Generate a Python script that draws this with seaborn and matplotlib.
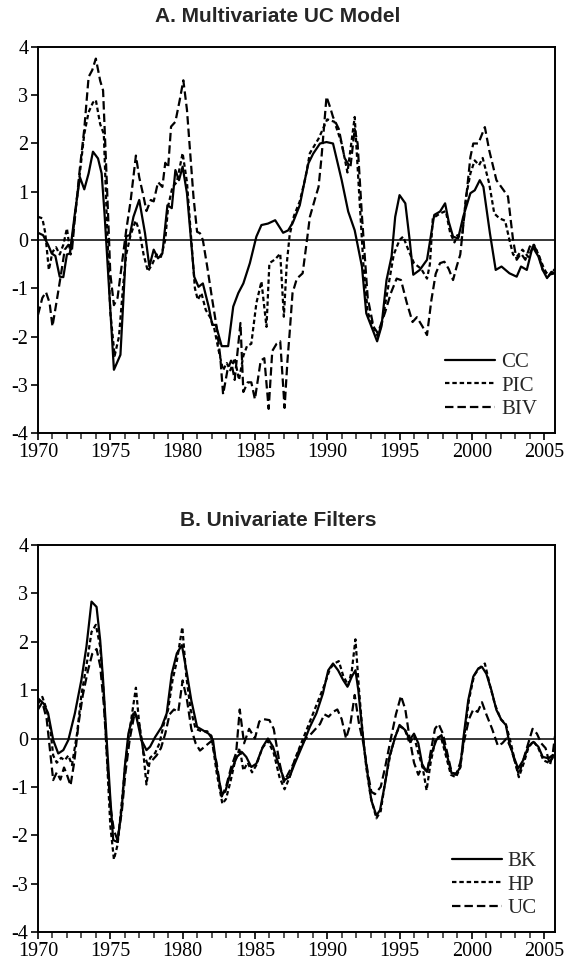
import matplotlib
matplotlib.use("Agg")
import matplotlib.pyplot as plt
from matplotlib.ticker import MultipleLocator
import seaborn as sns
import pandas as pd

# ---------------- Panel A: Multivariate UC Model ----------------
cc_year = [1970.0, 1970.35, 1970.7, 1970.95, 1971.2, 1971.5, 1971.75, 1972.0, 1972.2, 1972.55,
           1972.9, 1973.2, 1973.5, 1973.8, 1974.15, 1974.4, 1974.6, 1974.85, 1975.25, 1975.7,
           1976.0, 1976.1, 1976.35, 1976.6, 1977.0, 1977.4, 1977.7, 1978.0, 1978.3, 1978.6,
           1978.95, 1979.25, 1979.5, 1979.75, 1980.0, 1980.3, 1980.5, 1980.8, 1981.1, 1981.4,
           1981.8, 1982.05, 1982.3, 1982.7, 1983.15, 1983.5, 1983.85, 1984.2, 1984.65, 1985.1,
           1985.45, 1985.9, 1986.4, 1986.95, 1987.3, 1987.65, 1988.1, 1988.45, 1988.7, 1989.03,
           1989.5, 1989.95, 1990.4, 1991.0, 1991.45, 1991.9, 1992.4, 1992.7, 1993.05, 1993.45,
           1993.75, 1994.1, 1994.45, 1994.7, 1995.0, 1995.4, 1995.7, 1995.95, 1996.4, 1996.9,
           1997.4, 1997.8, 1998.15, 1998.4, 1998.7, 1999.05, 1999.4, 1999.9, 2000.2, 2000.55,
           2000.8, 2001.25, 2001.65, 2002.05, 2002.6, 2003.1, 2003.4, 2003.8, 2004.2, 2004.6,
           2004.9, 2005.2, 2005.5, 2005.75]
cc_val = [0.15, 0.1, -0.1, -0.28, -0.33, -0.76, -0.77, -0.3, -0.28, 0.55,
          1.3, 1.05, 1.38, 1.83, 1.69, 1.38, 0.55, -0.69, -2.69, -2.38,
          -0.69, 0.08, 0.1, 0.48, 0.83, 0.14, -0.55, -0.2, -0.38, -0.28,
          0.72, 0.66, 1.45, 1.24, 1.52, 0.97, 0.28, -0.76, -0.97, -0.9,
          -1.38, -1.76, -1.76, -2.2, -2.2, -1.38, -1.1, -0.9, -0.48, 0.07,
          0.31, 0.34, 0.41, 0.15, 0.2, 0.38, 0.72, 1.24, 1.59, 1.79,
          2.0, 2.03, 2.0, 1.24, 0.59, 0.2, -0.55, -1.52, -1.79, -2.1,
          -1.79, -0.83, -0.34, 0.48, 0.93, 0.76, 0.0, -0.72, -0.62, -0.41,
          0.52, 0.59, 0.76, 0.38, 0.07, 0.03, 0.48, 0.97, 1.03, 1.24,
          1.1, 0.14, -0.62, -0.55, -0.69, -0.76, -0.55, -0.62, -0.14, -0.34,
          -0.62, -0.79, -0.66, -0.69]

pic_year = [1970.0, 1970.3, 1970.5, 1970.75, 1971.0, 1971.25, 1971.5, 1971.75, 1972.0, 1972.25,
            1972.55, 1972.9, 1973.2, 1973.5, 1973.8, 1974.0, 1974.3, 1974.55, 1974.75, 1975.0,
            1975.3, 1975.6, 1975.9, 1976.1, 1976.4, 1976.75, 1977.0, 1977.3, 1977.6, 1977.9,
            1978.2, 1978.5, 1978.8, 1979.0, 1979.3, 1979.6, 1979.8, 1980.0, 1980.3, 1980.6,
            1980.85, 1981.05, 1981.3, 1981.6, 1981.9, 1982.2, 1982.5, 1982.8, 1983.05, 1983.3,
            1983.6, 1983.9, 1984.2, 1984.45, 1984.75, 1985.1, 1985.45, 1985.8, 1986.0, 1986.4,
            1986.75, 1987.0, 1987.2, 1987.4, 1987.7, 1988.1, 1988.5, 1988.8, 1989.2, 1989.4,
            1989.7, 1990.0, 1990.5, 1991.0, 1991.4, 1991.9, 1992.2, 1992.5, 1992.8, 1993.2,
            1993.5, 1993.8, 1994.2, 1994.6, 1995.0, 1995.25, 1995.6, 1996.0, 1996.5, 1996.9,
            1997.1, 1997.3, 1997.8, 1998.2, 1998.5, 1998.8, 1999.0, 1999.3, 1999.6, 1999.9,
            2000.2, 2000.5, 2000.75, 2001.2, 2001.55, 2001.9, 2002.3, 2002.6, 2002.85, 2003.1,
            2003.5, 2003.9, 2004.3, 2004.6, 2005.0, 2005.3, 2005.75]
pic_val = [0.48, 0.45, 0.15, -0.62, -0.25, -0.15, -0.3, -0.1, 0.24, -0.3,
           0.5, 1.4, 2.2, 2.65, 2.85, 2.9, 2.4, 2.2, 0.5, -1.5,
           -2.4, -2.0, -0.9, -0.3, 0.1, 0.4, 0.2, -0.3, -0.65, -0.5,
           -0.3, -0.35, 0.0, 0.7, 1.1, 1.2, 1.5, 1.8, 1.2, 0.0,
           -1.0, -1.24, -1.1, -1.45, -1.6, -1.85, -2.3, -2.7, -2.55, -2.7,
           -2.45, -2.9, -2.4, -2.2, -2.15, -1.31, -0.86, -1.8, -0.48, -0.4,
           -0.28, -1.59, -0.5, 0.1, 0.5, 0.8, 1.3, 1.8, 2.0, 2.1,
           2.3, 2.5, 2.45, 2.0, 1.4, 2.55, 1.0, -0.5, -1.5, -1.8,
           -2.0, -1.7, -1.0, -0.3, 0.0, 0.07, -0.2, -0.48, -0.6, -0.8,
           -0.5, 0.45, 0.55, 0.6, 0.15, -0.05, 0.1, 0.0, 0.9, 1.38,
           1.65, 1.55, 1.7, 1.17, 0.55, 0.45, 0.4, 0.0, -0.3, -0.35,
           -0.2, -0.35, -0.1, -0.3, -0.6, -0.75, -0.6]

biv_year = [1970.0, 1970.3, 1970.55, 1970.8, 1971.0, 1971.3, 1971.6, 1971.85, 1972.1, 1972.35,
            1972.6, 1972.9, 1973.2, 1973.5, 1973.75, 1974.0, 1974.3, 1974.5, 1974.65, 1974.85,
            1975.0, 1975.25, 1975.5, 1975.8, 1976.1, 1976.4, 1976.77, 1977.0, 1977.3, 1977.5,
            1977.8, 1978.0, 1978.3, 1978.6, 1978.8, 1979.0, 1979.2, 1979.5, 1979.8, 1980.05,
            1980.3, 1980.5, 1980.75, 1981.0, 1981.2, 1981.4, 1981.7, 1982.05, 1982.35, 1982.6,
            1982.8, 1983.1, 1983.35, 1983.6, 1984.0, 1984.2, 1984.5, 1984.75, 1985.0, 1985.4,
            1985.65, 1985.95, 1986.2, 1986.5, 1986.75, 1987.05, 1987.25, 1987.4, 1987.6, 1987.9,
            1988.3, 1988.6, 1988.8, 1989.2, 1989.4, 1989.6, 1989.95, 1990.2, 1990.4, 1990.8,
            1991.2, 1991.6, 1991.9, 1992.1, 1992.4, 1992.8, 1993.2, 1993.5, 1994.0, 1994.4,
            1994.8, 1995.1, 1995.5, 1995.9, 1996.2, 1996.6, 1996.9, 1997.2, 1997.5, 1997.8,
            1998.1, 1998.4, 1998.7, 1998.95, 1999.2, 1999.4, 1999.9, 2000.1, 2000.45, 2000.9,
            2001.2, 2001.7, 2002.2, 2002.5, 2002.85, 2003.1, 2003.4, 2003.7, 2004.0, 2004.2,
            2004.6, 2004.9, 2005.3, 2005.75]
biv_val = [-1.55, -1.2, -1.08, -1.3, -1.79, -1.25, -0.69, -0.2, -0.1, -0.2,
           0.6, 1.5, 2.3, 3.38, 3.52, 3.76, 3.3, 3.1, 2.0, 0.5,
           -0.7, -1.35, -1.2, -0.5, 0.2, 0.8, 1.75, 1.3, 0.9, 0.6,
           0.83, 0.8, 1.2, 1.1, 1.6, 1.5, 2.35, 2.45, 2.9, 3.31,
           2.7, 1.9, 0.9, 0.17, 0.14, 0.0, -0.55, -1.24, -1.8, -2.41,
           -3.2, -2.7, -2.5, -2.9, -1.72, -3.15, -2.95, -2.95, -3.3, -2.5,
           -2.45, -3.5, -2.3, -2.15, -2.1, -3.48, -2.5, -1.93, -1.1, -0.8,
           -0.69, 0.0, 0.48, 0.9, 1.1, 1.7, 2.97, 2.75, 2.55, 2.3,
           1.7, 1.5, 2.3, 2.0, 0.5, -1.2, -1.8, -1.93, -1.5, -1.1,
           -0.8, -0.83, -1.3, -1.7, -1.6, -1.8, -1.97, -1.25, -0.7, -0.48,
           -0.45, -0.6, -0.83, -0.55, -0.3, 0.28, 1.72, 2.0, 2.0, 2.34,
           1.86, 1.24, 1.03, 0.9, 0.0, -0.41, -0.28, -0.41, -0.14, -0.07,
           -0.28, -0.62, -0.72, -0.69]

# ---------------- Panel B: Univariate Filters ----------------
bk_year = [1970.0, 1970.4, 1970.7, 1971.05, 1971.4, 1971.75, 1972.1, 1972.55, 1973.0, 1973.35,
           1973.7, 1974.05, 1974.3, 1974.5, 1974.75, 1974.98, 1975.2, 1975.5, 1975.8, 1976.0,
           1976.25, 1976.6, 1976.8, 1977.15, 1977.5, 1977.75, 1978.1, 1978.55, 1978.9, 1979.25,
           1979.6, 1979.95, 1980.3, 1980.6, 1981.0, 1981.4, 1981.8, 1982.1, 1982.35, 1982.7,
           1982.95, 1983.3, 1983.75, 1984.1, 1984.4, 1984.75, 1985.1, 1985.55, 1985.9, 1986.25,
           1986.7, 1987.05, 1987.4, 1987.75, 1988.05, 1988.35, 1988.8, 1989.25, 1989.7, 1990.07,
           1990.4, 1990.75, 1991.1, 1991.4, 1991.7, 1991.95, 1992.15, 1992.4, 1992.6, 1992.85,
           1993.05, 1993.4, 1993.65, 1994.0, 1994.3, 1994.7, 1995.0, 1995.4, 1995.7, 1996.0,
           1996.3, 1996.6, 1996.9, 1997.2, 1997.55, 1997.9, 1998.25, 1998.6, 1998.95, 1999.2,
           1999.4, 1999.75, 2000.1, 2000.45, 2000.7, 2001.0, 2001.35, 2001.7, 2002.05, 2002.35,
           2002.6, 2002.9, 2003.2, 2003.55, 2003.9, 2004.25, 2004.6, 2004.9, 2005.3, 2005.6,
           2005.75]
bk_val = [0.83, 0.72, 0.52, -0.03, -0.31, -0.24, -0.03, 0.52, 1.21, 1.9,
          2.83, 2.72, 2.03, 1.21, -0.03, -1.14, -2.1, -2.14, -1.41, -0.59,
          0.1, 0.52, 0.45, -0.03, -0.24, -0.17, 0.03, 0.24, 0.52, 1.34,
          1.76, 1.93, 1.34, 0.79, 0.24, 0.17, 0.1, -0.03, -0.59, -1.14,
          -1.1, -0.72, -0.38, -0.28, -0.38, -0.59, -0.52, -0.17, 0.0, -0.17,
          -0.59, -0.86, -0.79, -0.52, -0.31, -0.1, 0.24, 0.52, 0.93, 1.41,
          1.55, 1.41, 1.21, 1.07, 1.28, 1.41, 1.0, 0.24, -0.31, -0.86,
          -1.28, -1.59, -1.48, -0.93, -0.38, 0.03, 0.28, 0.17, -0.03, 0.1,
          -0.1, -0.59, -0.69, -0.31, -0.03, 0.07, -0.31, -0.72, -0.72, -0.59,
          -0.03, 0.79, 1.28, 1.45, 1.48, 1.34, 1.0, 0.59, 0.38, 0.28,
          -0.1, -0.38, -0.62, -0.45, -0.17, -0.07, -0.17, -0.38, -0.41, -0.34,
          -0.38]

hp_year = [1970.0, 1970.3, 1970.6, 1970.85, 1971.05, 1971.3, 1971.6, 1971.85, 1972.1, 1972.35,
           1972.7, 1973.0, 1973.4, 1973.7, 1974.0, 1974.3, 1974.55, 1974.8, 1975.0, 1975.25,
           1975.5, 1975.8, 1976.05, 1976.35, 1976.77, 1977.0, 1977.25, 1977.5, 1977.75, 1978.1,
           1978.4, 1978.7, 1979.0, 1979.3, 1979.6, 1979.98, 1980.25, 1980.55, 1980.9, 1981.3,
           1981.7, 1982.0, 1982.35, 1982.75, 1983.0, 1983.3, 1983.6, 1983.95, 1984.2, 1984.5,
           1984.8, 1985.1, 1985.5, 1985.9, 1986.3, 1986.7, 1987.05, 1987.4, 1987.8, 1988.2,
           1988.6, 1989.0, 1989.4, 1989.8, 1990.2, 1990.5, 1990.8, 1991.1, 1991.45, 1991.7,
           1991.95, 1992.2, 1992.45, 1992.7, 1993.0, 1993.4, 1993.7, 1994.0, 1994.35, 1994.7,
           1995.0, 1995.35, 1995.7, 1996.0, 1996.3, 1996.6, 1996.87, 1997.15, 1997.5, 1997.85,
           1998.2, 1998.55, 1998.9, 1999.2, 1999.45, 1999.8, 2000.15, 2000.5, 2000.9, 2001.25,
           2001.6, 2002.0, 2002.35, 2002.7, 2003.0, 2003.25, 2003.6, 2003.9, 2004.25, 2004.6,
           2004.95, 2005.3, 2005.6, 2005.75]
hp_val = [0.72, 0.86, 0.6, 0.2, -0.35, -0.5, -0.4, -0.45, -0.35, -0.55,
          0.1, 0.9, 1.6, 2.2, 2.35, 1.9, 0.9, -0.6, -1.8, -2.5,
          -2.2, -1.3, -0.5, 0.2, 1.05, 0.3, -0.2, -0.95, -0.4, -0.3,
          -0.1, 0.3, 0.6, 1.2, 1.6, 2.3, 1.3, 0.6, 0.2, 0.15,
          0.15, 0.05, -0.7, -1.35, -1.25, -0.9, -0.5, -0.2, -0.66, -0.5,
          -0.7, -0.55, -0.2, -0.05, -0.3, -0.8, -1.05, -0.8, -0.4, -0.1,
          0.2, 0.5, 0.8, 1.1, 1.45, 1.55, 1.6, 1.3, 1.1, 1.4,
          2.05, 1.0, 0.1, -0.6, -1.2, -1.65, -1.5, -0.9, -0.35, 0.05,
          0.25, 0.2, -0.1, 0.05, -0.3, -0.6, -1.07, -0.5, 0.0, 0.05,
          -0.35, -0.75, -0.8, -0.6, 0.0, 0.8, 1.3, 1.45, 1.55, 1.1,
          0.7, 0.4, 0.3, -0.1, -0.5, -0.8, -0.5, -0.2, -0.05, -0.2,
          -0.45, -0.5, -0.4, -0.45]

uc_year = [1970.0, 1970.3, 1970.6, 1970.85, 1971.05, 1971.3, 1971.55, 1971.8, 1972.0, 1972.25,
           1972.5, 1972.8, 1973.1, 1973.45, 1973.75, 1974.05, 1974.3, 1974.55, 1974.8, 1975.0,
           1975.25, 1975.5, 1975.8, 1976.05, 1976.35, 1976.7, 1977.0, 1977.3, 1977.6, 1977.9,
           1978.2, 1978.5, 1978.8, 1979.1, 1979.4, 1979.7, 1980.0, 1980.3, 1980.6, 1980.9,
           1981.2, 1981.6, 1982.0, 1982.35, 1982.7, 1983.0, 1983.35, 1983.7, 1983.95, 1984.25,
           1984.6, 1985.0, 1985.3, 1985.6, 1986.0, 1986.3, 1986.7, 1987.0, 1987.35, 1987.7,
           1988.1, 1988.5, 1988.9, 1989.2, 1989.5, 1989.8, 1990.1, 1990.4, 1990.7, 1991.0,
           1991.3, 1991.6, 1991.9, 1992.2, 1992.5, 1992.8, 1993.05, 1993.3, 1993.7, 1994.0,
           1994.4, 1994.75, 1995.1, 1995.4, 1995.7, 1996.0, 1996.3, 1996.6, 1996.9, 1997.2,
           1997.45, 1997.7, 1998.0, 1998.3, 1998.6, 1998.9, 1999.2, 1999.5, 1999.8, 2000.1,
           2000.4, 2000.7, 2001.0, 2001.4, 2001.8, 2002.1, 2002.4, 2002.7, 2003.0, 2003.25,
           2003.6, 2003.9, 2004.2, 2004.5, 2004.8, 2005.1, 2005.4, 2005.6, 2005.75]
uc_val = [0.6, 0.75, 0.4, -0.3, -0.86, -0.7, -0.85, -0.6, -0.75, -0.97,
          -0.5, 0.3, 0.9, 1.4, 1.75, 1.85, 1.5, 0.7, -0.5, -1.4,
          -1.9, -2.1, -1.5, -0.7, 0.0, 0.55, 0.3, -0.3, -0.55, -0.45,
          -0.35, -0.2, 0.1, 0.5, 0.6, 0.55, 1.2, 0.8, 0.2, -0.1,
          -0.25, -0.15, -0.05, -0.5, -1.2, -1.0, -0.6, -0.3, 0.6, -0.1,
          0.2, 0.0, 0.35, 0.4, 0.38, 0.2, -0.5, -0.9, -0.7, -0.5,
          -0.2, 0.0, 0.1, 0.2, 0.3, 0.5, 0.45, 0.55, 0.6, 0.4,
          0.0, 0.3, 0.9, 0.3, -0.1, -0.7, -1.1, -1.15, -1.0, -0.6,
          0.0, 0.5, 0.88, 0.6, 0.0, -0.5, -0.75, -0.55, -0.7, -0.2,
          0.2, 0.3, 0.1, -0.3, -0.7, -0.75, -0.5, 0.0, 0.4, 0.6,
          0.55, 0.75, 0.5, 0.2, -0.15, -0.1, 0.0, -0.2, -0.5, -0.75,
          -0.4, -0.1, 0.2, 0.1, -0.1, -0.2, -0.55, -0.3, 0.05]

panel_titles = ["A. Multivariate UC Model", "B. Univariate Filters"]
panel_a_names = ["CC", "PIC", "BIV"]
panel_b_names = ["BK", "HP", "UC"]
x_ticks = [1970, 1975, 1980, 1985, 1990, 1995, 2000, 2005]
y_ticks = [-4, -3, -2, -1, 0, 1, 2, 3, 4]


def long_frame(names, years, values):
    rows = []
    for n, ys, vs in zip(names, years, values):
        rows.append(pd.DataFrame({"year": ys, "value": vs, "series": n}))
    return pd.concat(rows, ignore_index=True)


df_a = long_frame(panel_a_names, [cc_year, pic_year, biv_year], [cc_val, pic_val, biv_val])
df_b = long_frame(panel_b_names, [bk_year, hp_year, uc_year], [bk_val, hp_val, uc_val])

sns.set_theme(style="ticks")
plt.rcParams["font.family"] = ["Liberation Serif", "DejaVu Serif"]
plt.rcParams["axes.unicode_minus"] = False

W, H = 564, 965
fig = plt.figure(figsize=(W / 100, H / 100), dpi=100)

left_px, right_px = 38, 555
panels = [
    (df_a, panel_a_names, 47, 433, 17),
    (df_b, panel_b_names, 545, 932, 520),
]
solid = ""
fine = (2.0, 1.3)
dash = (3.8, 1.8)

for (df, names, top_px, bot_px, title_px), title in zip(panels, panel_titles):
    ax = fig.add_axes([left_px / W, 1 - bot_px / H, (right_px - left_px) / W, (bot_px - top_px) / H])
    ax.axhline(0, color="black", lw=1.1, zorder=1)
    sns.lineplot(data=df, x="year", y="value", style="series", style_order=names,
                 dashes={names[0]: solid, names[1]: fine, names[2]: dash},
                 color="black", linewidth=1.6, estimator=None, sort=False, ax=ax, legend=True)
    ax.set_xlim(1970, 2005.75)
    ax.set_ylim(-4, 4)
    ax.set_xticks(x_ticks)
    ax.set_yticks(y_ticks)
    ax.set_yticklabels([str(v) for v in y_ticks])
    ax.xaxis.set_minor_locator(MultipleLocator(1))
    ax.set_xlabel("")
    ax.set_ylabel("")
    for s in ax.spines.values():
        s.set_visible(True)
        s.set_linewidth(1.4)
        s.set_color("black")
    ax.tick_params(axis="both", which="major", direction="out", length=5, width=1.2,
                   labelsize=14.5, pad=2, colors="black", top=False, right=False)
    ax.tick_params(axis="x", which="minor", direction="out", length=4, width=1.1,
                   top=False)
    handles, labels = ax.get_legend_handles_labels()
    ax.legend(handles, labels, loc="lower right", bbox_to_anchor=(0.965, 0.035),
              frameon=False, fontsize=15, handlelength=2.4, handletextpad=0.3,
              labelspacing=0.2, borderpad=0, borderaxespad=0)
    fig.text(278 / W, 1 - title_px / H, title, ha="center", va="center",
             fontsize=15, fontweight="bold", family=["Liberation Sans", "DejaVu Sans"])

fig.savefig("out.png", dpi=100, facecolor="white")
